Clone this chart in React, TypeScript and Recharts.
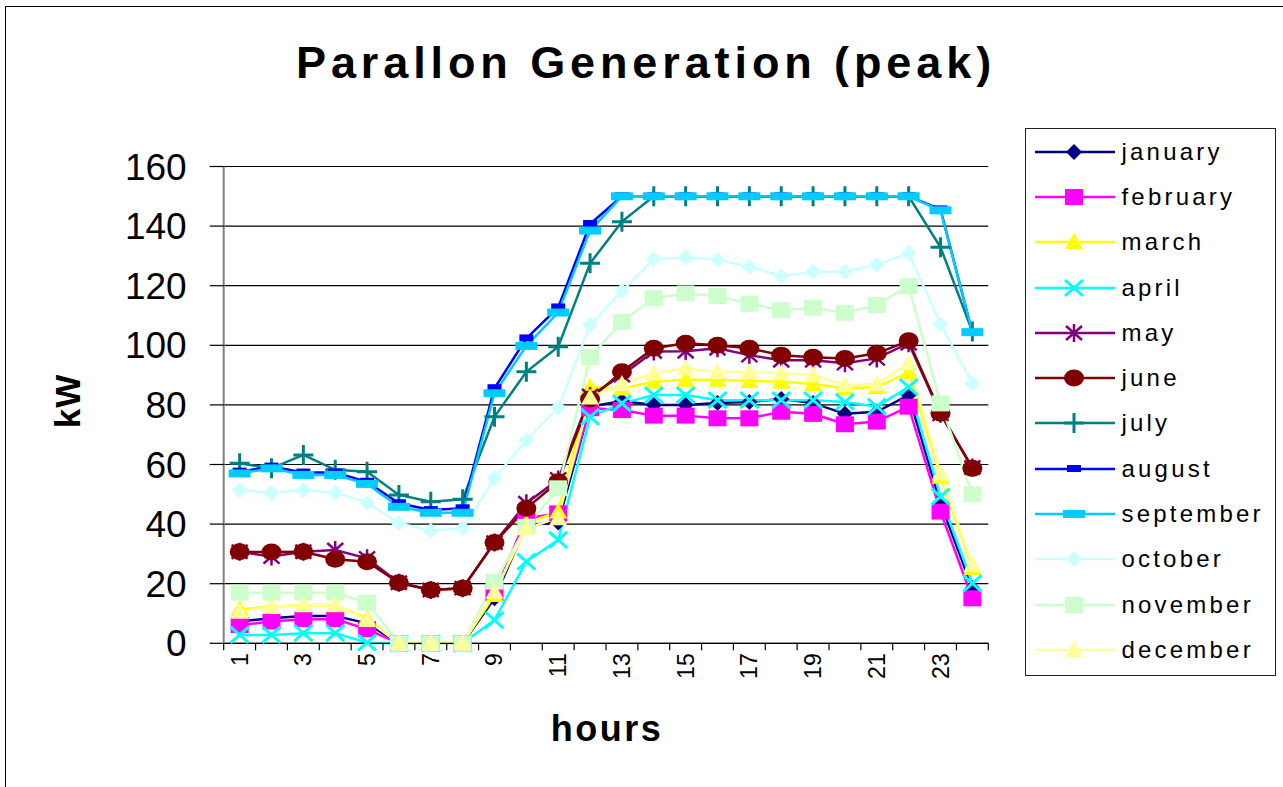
import React from 'react';
import { LineChart, Line, XAxis, YAxis, CartesianGrid, Legend } from 'recharts';

const hours = ['1', '2', '3', '4', '5', '6', '7', '8', '9', '10', '11', '12', '13', '14', '15', '16', '17', '18', '19', '20', '21', '22', '23', '24'];
const kwTicks = [0, 20, 40, 60, 80, 100, 120, 140, 160];

const january = [7.3, 8.4, 9.2, 9.2, 6.7, 0, 0, 0, 15.1, 39.7, 40.5, 79.4, 81.3, 80, 80, 80.6, 81, 82, 80.6, 77, 77.7, 83.3, 47, 18.5];
const february = [6.1, 7.3, 8.1, 8.1, 4.7, 0, 0, 0, 16.8, 42, 43.6, 78.9, 78.3, 76.4, 76.4, 75.5, 75.5, 77.7, 77, 73.5, 74.4, 79.4, 44.2, 15.1];
const march = [11.4, 12.3, 12.8, 12.8, 8.4, 0, 0, 0, 16.2, 40.3, 44.2, 86, 85.5, 87.8, 88.4, 88.4, 88, 87.8, 87, 85.6, 86, 91, 55.9, 25.3];
const april = [2.8, 2.8, 3.4, 3.4, 0.2, 0, 0, 0, 7.8, 27.4, 34.7, 76, 80.5, 83.3, 83.3, 81.6, 81.6, 81.6, 81.6, 81, 79.4, 86, 49.2, 20.1];
const may = [30.7, 29.1, 30.7, 31.3, 28.5, 20.3, 17.9, 18.5, 33.8, 47, 55, 83, 90, 97.9, 98, 99, 96.7, 95, 95, 94, 95.6, 100.7, 77, 59];
const june = [30.7, 30.6, 30.7, 28.2, 27.4, 20.3, 17.9, 18.5, 33.8, 45.3, 54.2, 82, 91.1, 99, 100.7, 100, 99, 96.7, 96, 95.6, 97.3, 101.5, 77.2, 58.7];
const july = [60.4, 58.7, 63.2, 58.2, 57.6, 49.8, 47.5, 48.3, 76, 91.1, 99.5, 127.5, 141.5, 150, 150, 150, 150, 150, 150, 150, 150, 150, 132.9, 104.6];
const august = [57.6, 59.3, 57.3, 57.3, 54.2, 47, 44.7, 45.3, 85.6, 102.3, 112.7, 140.7, 150, 150, 150, 150, 150, 150, 150, 150, 150, 150, 145.6, 104.2];
const september = [57, 58.7, 56.5, 56.5, 53.5, 45.8, 43.8, 43.8, 83.9, 99.8, 111, 138.5, 150, 150, 150, 150, 150, 150, 150, 150, 150, 150, 145.3, 104.4];
const october = [51.4, 50.5, 51.4, 50.5, 47.2, 40.3, 37.8, 38.6, 55.4, 68.2, 79.1, 106.8, 118.2, 128.9, 129.5, 128.6, 126.4, 123.2, 124.7, 124.7, 127, 130.9, 107.1, 87.2];
const november = [17, 17, 17, 17, 13.6, 0, 0, 0, 20.7, 39.1, 52, 96, 107.9, 115.8, 117.4, 116.5, 114, 111.8, 112.6, 110.9, 113.5, 119.9, 80.5, 50];
const december = [10.6, 12.3, 12.9, 12.9, 7.8, 0, 0, 0, 17.3, 38.6, 42, 82.5, 87, 90.6, 92.3, 91, 91, 90.6, 90, 86.7, 87, 94, 57, 26.3];

const series = [
  { key: 'january', values: january, color: '#000080', marker: 'diamond' },
  { key: 'february', values: february, color: '#FF00FF', marker: 'square' },
  { key: 'march', values: march, color: '#FFFF00', marker: 'triangle' },
  { key: 'april', values: april, color: '#00FFFF', marker: 'x' },
  { key: 'may', values: may, color: '#800080', marker: 'star' },
  { key: 'june', values: june, color: '#800000', marker: 'circle' },
  { key: 'july', values: july, color: '#008080', marker: 'plus' },
  { key: 'august', values: august, color: '#0000FF', marker: 'smallbar' },
  { key: 'september', values: september, color: '#00CCFF', marker: 'widebar' },
  { key: 'october', values: october, color: '#CCFFFF', marker: 'diamond' },
  { key: 'november', values: november, color: '#CCFFCC', marker: 'square' },
  { key: 'december', values: december, color: '#FFFF99', marker: 'triangle' },
];

const data = hours.map((h, i) => {
  const row: any = { hour: h };
  series.forEach(s => { row[s.key] = s.values[i]; });
  return row;
});

const W = 1283;
const H = 787;
const FONT = '"Liberation Sans", Arial, Helvetica, sans-serif';
const MARGIN = { top: 166.5, right: 294.7, bottom: 0, left: 0 };
const Y_AXIS_W = 223.7;
const X_AXIS_H = 143.7;
const BAND = (W - MARGIN.right - MARGIN.left - Y_AXIS_W) / hours.length;

function Marker({ kind, cx, cy, color }: { kind: string; cx: number; cy: number; color: string }) {
  switch (kind) {
    case 'diamond':
      return <polygon points={`${cx},${cy - 8} ${cx + 8},${cy} ${cx},${cy + 8} ${cx - 8},${cy}`} fill={color} />;
    case 'square':
      return <rect x={cx - 9} y={cy - 8} width={18} height={16} fill={color} />;
    case 'triangle':
      return <polygon points={`${cx},${cy - 9} ${cx + 9},${cy + 7} ${cx - 9},${cy + 7}`} fill={color} />;
    case 'x':
      return <path d={`M${cx - 9},${cy - 8}L${cx + 9},${cy + 8}M${cx - 9},${cy + 8}L${cx + 9},${cy - 8}`} stroke={color} strokeWidth={3} fill="none" />;
    case 'star':
      return <path d={`M${cx - 8},${cy - 7}L${cx + 8},${cy + 7}M${cx - 8},${cy + 7}L${cx + 8},${cy - 7}M${cx},${cy - 9}L${cx},${cy + 9}`} stroke={color} strokeWidth={2.5} fill="none" />;
    case 'circle':
      return <ellipse cx={cx} cy={cy} rx={10} ry={8.5} fill={color} />;
    case 'plus':
      return <path d={`M${cx - 10},${cy}L${cx + 10},${cy}M${cx},${cy - 10}L${cx},${cy + 10}`} stroke={color} strokeWidth={3} fill="none" />;
    case 'smallbar':
      return <rect x={cx - 7} y={cy - 4} width={14} height={7} fill={color} />;
    case 'widebar':
      return <rect x={cx - 11} y={cy - 4} width={22} height={8} fill={color} />;
    default:
      return null;
  }
}

const renderDot = (kind: string, color: string) => (p: any) => (
  <g key={`dot-${p.index}`}>
    {p.cx != null && p.cy != null ? <Marker kind={kind} cx={p.cx} cy={p.cy} color={color} /> : null}
  </g>
);

const HourTick = (props: any) => {
  const { x, y, payload, index } = props;
  const half = BAND / 2;
  return (
    <g>
      <line x1={x - half} y1={y} x2={x - half} y2={y + 7} stroke="#000" strokeWidth={1.2} />
      {index === hours.length - 1 ? <line x1={x + half} y1={y} x2={x + half} y2={y + 7} stroke="#000" strokeWidth={1.2} /> : null}
      {index % 2 === 0 ? (
        <text x={x} y={y + 10} transform={`rotate(-90, ${x}, ${y + 10})`} textAnchor="end" dominantBaseline="central"
          fontSize={23} fontFamily={FONT} fill="#000">{payload.value}</text>
      ) : null}
    </g>
  );
};

const KwLabel = (props: any) => {
  const vb = props.viewBox || {};
  const cx = vb.x + 68;
  const cy = vb.y + vb.height / 2 - 4;
  return (
    <text x={cx} y={cy} transform={`rotate(-90, ${cx}, ${cy})`} textAnchor="middle" dominantBaseline="central"
      fontSize={35} fontWeight="bold" fontFamily={FONT} letterSpacing={1} fill="#000">kW</text>
  );
};

const HoursLabel = (props: any) => {
  const vb = props.viewBox || {};
  return (
    <text x={vb.x + vb.width / 2 + 1} y={vb.y + 98} textAnchor="middle" fontSize={36} fontWeight="bold"
      fontFamily={FONT} letterSpacing={2.5} fill="#000">hours</text>
  );
};

const LegendBox = () => (
  <div style={{ width: 251, height: 548, border: '1.5px solid #222', boxSizing: 'border-box', background: '#fff' }}>
    {series.map(s => (
      <div key={s.key} style={{ height: 45.3, display: 'flex', alignItems: 'center' }}>
        <svg width={87} height={30} style={{ marginLeft: 8.5, flex: 'none' }}>
          <line x1={0} y1={15} x2={80} y2={15} stroke={s.color} strokeWidth={2.5} />
          <Marker kind={s.marker} cx={39} cy={15} color={s.color} />
        </svg>
        <span style={{ fontFamily: FONT, fontSize: 24, letterSpacing: 3.2, color: '#000', whiteSpace: 'nowrap' }}>{s.key}</span>
      </div>
    ))}
  </div>
);

export default function App() {
  return (
    <div style={{ position: 'absolute', left: 0, top: 0, width: W, height: H, overflow: 'hidden', background: '#fff' }}>
      <div style={{ position: 'absolute', left: 5, top: 6, width: W + 20, height: H + 20, border: '1.5px solid #000', boxSizing: 'border-box' }} />
      <div style={{ position: 'absolute', left: 0, top: 40, width: 1292, textAlign: 'center', fontFamily: FONT, fontWeight: 'bold',
        fontSize: 45, lineHeight: '45px', letterSpacing: 4.9, color: '#000', zIndex: 2 }}>
        Parallon Generation (peak)
      </div>
      <div style={{ position: 'absolute', left: 0, top: 0 }}>
        <LineChart width={W} height={H} data={data} margin={MARGIN}>
          <CartesianGrid horizontal vertical={false} stroke="#000" strokeWidth={1.2} />
          <XAxis dataKey="hour" scale="point" interval={0} height={X_AXIS_H} padding={{ left: BAND / 2, right: BAND / 2 }}
            tickSize={0} tickMargin={0} tickLine={false} axisLine={{ stroke: '#000', strokeWidth: 1.2 }}
            tick={<HourTick />} label={<HoursLabel />} />
          <YAxis domain={[0, 160]} ticks={kwTicks} width={Y_AXIS_W} interval={0} tickSize={14} tickMargin={23}
            axisLine={{ stroke: '#808080', strokeWidth: 2 }} tickLine={{ stroke: '#000', strokeWidth: 1.2 }}
            tick={{ fontSize: 37, fontFamily: FONT, fill: '#000' }} label={<KwLabel />} />
          <Legend layout="vertical" align="center" verticalAlign="middle" content={<LegendBox />}
            wrapperStyle={{ left: 1025, top: 128, width: 251, height: 548 }} />
          {series.map(s => (
            <Line key={s.key} dataKey={s.key} name={s.key} stroke={s.color} strokeWidth={2.5} type="linear"
              dot={renderDot(s.marker, s.color)} activeDot={false} isAnimationActive={false} />
          ))}
        </LineChart>
      </div>
    </div>
  );
}
